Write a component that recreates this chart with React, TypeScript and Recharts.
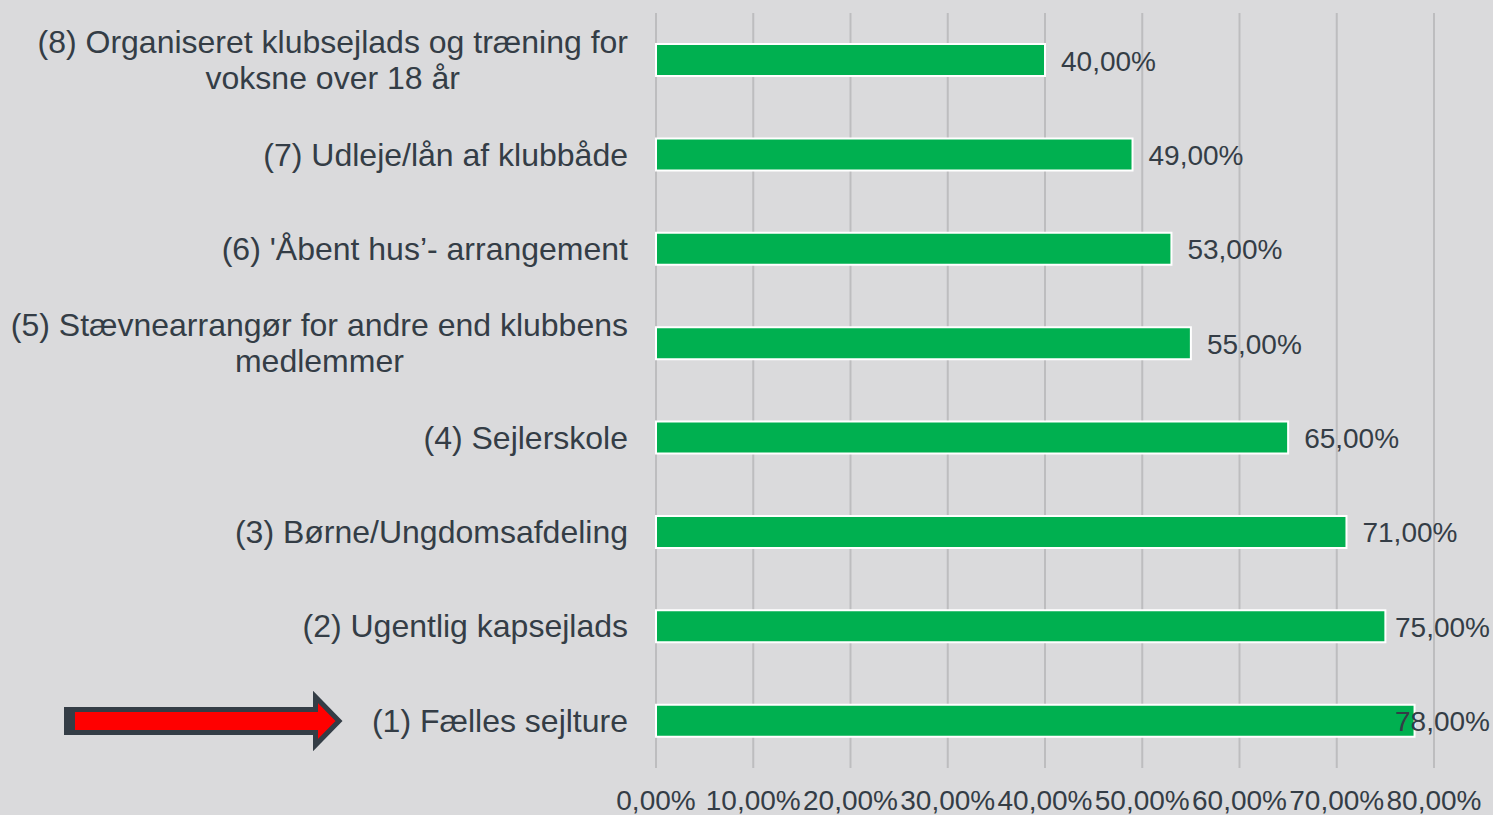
import { Bar, BarChart, CartesianGrid, LabelList, XAxis, YAxis } from "recharts";

const categories = [
  "(8) Organiseret klubsejlads og træning for\nvoksne over 18 år",
  "(7) Udleje/lån af klubbåde",
  "(6) 'Åbent hus’- arrangement",
  "(5) Stævnearrangør for andre end klubbens\nmedlemmer",
  "(4) Sejlerskole",
  "(3) Børne/Ungdomsafdeling",
  "(2) Ugentlig kapsejlads",
  "(1) Fælles sejlture",
];
const values = [40, 49, 53, 55, 65, 71, 75, 78];
const xTicks = [0, 10, 20, 30, 40, 50, 60, 70, 80];

const data = categories.map((name, i) => ({ name, value: values[i] }));

const FONT = "'Liberation Sans', Arial, sans-serif";
const TEXT = "#343d46";
const W = 1493;
const H = 815;

let ctx: CanvasRenderingContext2D | null = null;
function measure(text: string, size: number) {
  if (!ctx) ctx = document.createElement("canvas").getContext("2d");
  if (!ctx) return text.length * size * 0.55;
  ctx.font = `${size}px ${FONT}`;
  return ctx.measureText(text).width;
}

const pct = (v: number) => v.toFixed(2).replace(".", ",") + "%";

function CategoryTick(props: any) {
  const { x, y, payload } = props;
  const lines: string[] = String(payload.value).split("\n");
  const size = 32;
  const lh = 36;
  const maxW = Math.max(...lines.map((l) => measure(l, size)));
  const multi = lines.length > 1;
  return (
    <g>
      {lines.map((l, i) => (
        <text
          key={i}
          x={multi ? x - maxW / 2 : x}
          y={y + (i - (lines.length - 1) / 2) * lh}
          textAnchor={multi ? "middle" : "end"}
          dominantBaseline="central"
          fontFamily={FONT}
          fontSize={size}
          fill={TEXT}
        >
          {l}
        </text>
      ))}
    </g>
  );
}

function ValueLabel(props: any) {
  const { x, y, width, height, value } = props;
  const size = 28;
  const t = pct(value);
  const tw = measure(t, size);
  let lx = x + width + 16;
  if (lx + tw > W - 3) lx = W - 3 - tw;
  return (
    <text
      x={lx}
      y={y + height / 2 + 1}
      dominantBaseline="central"
      fontFamily={FONT}
      fontSize={size}
      fill={TEXT}
    >
      {t}
    </text>
  );
}

export default function App() {
  return (
    <div
      style={{
        position: "absolute",
        left: 0,
        top: 0,
        width: W,
        height: H,
        background: "#dadadc",
        fontFamily: FONT,
      }}
    >
      <BarChart
        width={W}
        height={H}
        data={data}
        layout="vertical"
        margin={{ top: 13, right: 59, bottom: 7, left: 0 }}
      >
        <CartesianGrid horizontal={false} stroke="#bdbdbf" strokeWidth={2} />
        <XAxis
          type="number"
          domain={[0, 80]}
          ticks={xTicks}
          tickFormatter={pct}
          axisLine={false}
          tickLine={false}
          tickMargin={16}
          height={40}
          interval={0}
          tick={{ fontSize: 28, fill: TEXT, fontFamily: FONT }}
        />
        <YAxis
          type="category"
          dataKey="name"
          width={656}
          axisLine={false}
          tickLine={false}
          tickSize={0}
          tickMargin={28}
          interval={0}
          tick={<CategoryTick />}
        />
        <Bar
          dataKey="value"
          fill="#00b050"
          stroke="#ffffff"
          strokeWidth={2}
          barSize={32}
          isAnimationActive={false}
        >
          <LabelList dataKey="value" content={<ValueLabel />} />
        </Bar>
      </BarChart>
      <svg
        width={W}
        height={H}
        style={{ position: "absolute", left: 0, top: 0, pointerEvents: "none" }}
      >
        <polygon
          points="67,709.5 315.5,709.5 315.5,697 339,721 315.5,745 315.5,732.5 67,732.5"
          fill="#ff0000"
          stroke={TEXT}
          strokeWidth={5}
          strokeLinejoin="miter"
        />
        <rect x={64} y={707} width={11} height={28} fill={TEXT} />
      </svg>
    </div>
  );
}
